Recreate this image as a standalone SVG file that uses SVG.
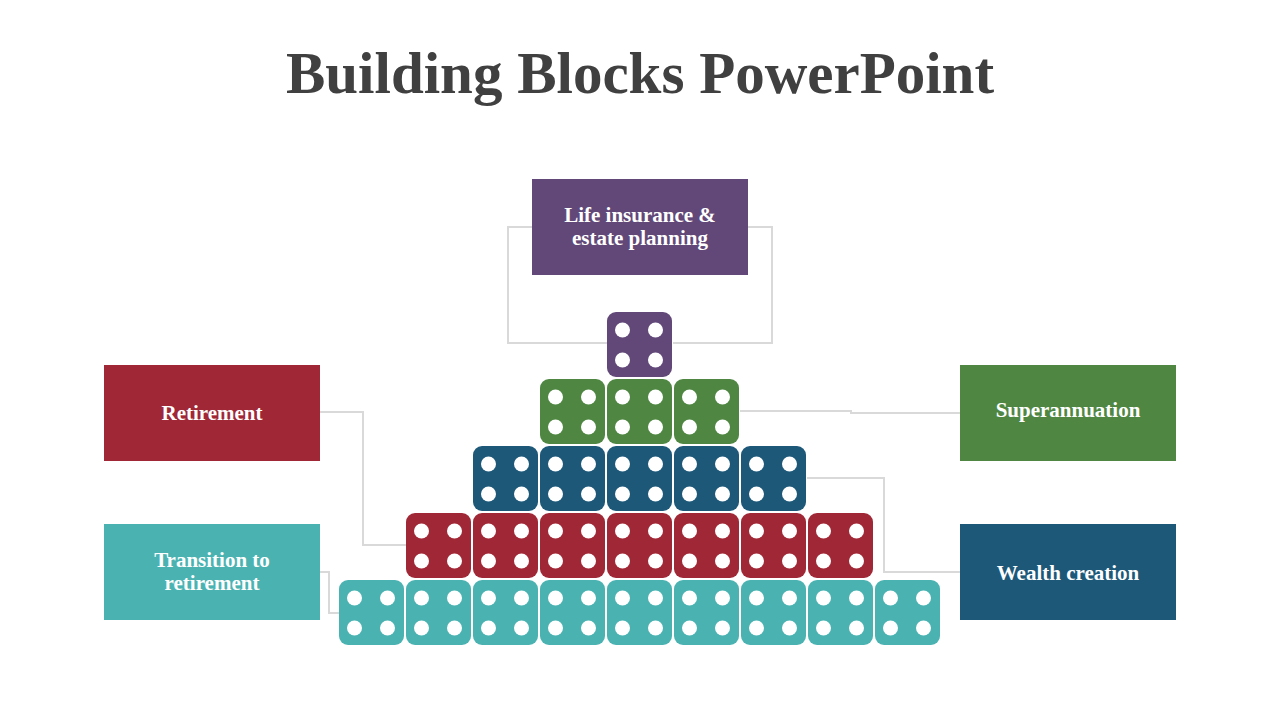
<svg xmlns="http://www.w3.org/2000/svg" xmlns:xlink="http://www.w3.org/1999/xlink" width="1280" height="720" viewBox="0 0 1280 720">
<defs>
<style>
.title{font-family:"Liberation Serif","DejaVu Serif",serif;font-weight:bold;font-size:59px;fill:#404040;text-anchor:middle}
.lbl{font-family:"Liberation Serif","DejaVu Serif",serif;font-weight:bold;font-size:21px;fill:#ffffff;text-anchor:middle}
.conn{fill:none;stroke:#D9D9D9;stroke-width:2}
.dot{fill:#ffffff}
.pu{fill:#614878}.gr{fill:#4F8742}.bl{fill:#1D5879}.rd{fill:#A02735}.te{fill:#4AB3B2}
</style>
<g id="die">
<rect width="65" height="65" rx="9" ry="9"/>
<circle class="dot" cx="15.5" cy="18" r="7.5"/>
<circle class="dot" cx="48.5" cy="18" r="7.5"/>
<circle class="dot" cx="15.5" cy="48" r="7.5"/>
<circle class="dot" cx="48.5" cy="48" r="7.5"/>
</g>
</defs>
<rect width="1280" height="720" fill="#ffffff"/>
<text class="title" x="640" y="93">Building Blocks PowerPoint</text>

<g id="connectors">
<polyline class="conn" points="532,227 508,227 508,343 607,343"/>
<polyline class="conn" points="748,227 772,227 772,343 673,343"/>
<polyline class="conn" points="320,412 363,412 363,545 406,545"/>
<polyline class="conn" points="320,572 329,572 329,613 339,613"/>
<polyline class="conn" points="740,411 851,411 851,413 960,413"/>
<polyline class="conn" points="807,478 884,478 884,572 960,572"/>
</g>

<g id="blocks">
<g id="row1" class="pu">
<use xlink:href="#die" x="607" y="312"/>
</g>
<g id="row2" class="gr">
<use xlink:href="#die" x="540" y="379"/>
<use xlink:href="#die" x="607" y="379"/>
<use xlink:href="#die" x="674" y="379"/>
</g>
<g id="row3" class="bl">
<use xlink:href="#die" x="473" y="446"/>
<use xlink:href="#die" x="540" y="446"/>
<use xlink:href="#die" x="607" y="446"/>
<use xlink:href="#die" x="674" y="446"/>
<use xlink:href="#die" x="741" y="446"/>
</g>
<g id="row4" class="rd">
<use xlink:href="#die" x="406" y="513"/>
<use xlink:href="#die" x="473" y="513"/>
<use xlink:href="#die" x="540" y="513"/>
<use xlink:href="#die" x="607" y="513"/>
<use xlink:href="#die" x="674" y="513"/>
<use xlink:href="#die" x="741" y="513"/>
<use xlink:href="#die" x="808" y="513"/>
</g>
<g id="row5" class="te">
<use xlink:href="#die" x="339" y="580"/>
<use xlink:href="#die" x="406" y="580"/>
<use xlink:href="#die" x="473" y="580"/>
<use xlink:href="#die" x="540" y="580"/>
<use xlink:href="#die" x="607" y="580"/>
<use xlink:href="#die" x="674" y="580"/>
<use xlink:href="#die" x="741" y="580"/>
<use xlink:href="#die" x="808" y="580"/>
<use xlink:href="#die" x="875" y="580"/>
</g>
</g>

<g id="life-insurance">
<rect class="pu" x="532" y="179" width="216" height="96"/>
<text class="lbl" x="640" y="222">Life insurance &amp;</text>
<text class="lbl" x="640" y="245">estate planning</text>
</g>
<g id="retirement">
<rect class="rd" x="104" y="365" width="216" height="96"/>
<text class="lbl" x="212" y="420">Retirement</text>
</g>
<g id="transition">
<rect class="te" x="104" y="524" width="216" height="96"/>
<text class="lbl" x="212" y="567">Transition to</text>
<text class="lbl" x="212" y="590">retirement</text>
</g>
<g id="superannuation">
<rect class="gr" x="960" y="365" width="216" height="96"/>
<text class="lbl" x="1068" y="417">Superannuation</text>
</g>
<g id="wealth">
<rect class="bl" x="960" y="524" width="216" height="96"/>
<text class="lbl" x="1068" y="580">Wealth creation</text>
</g>
</svg>
